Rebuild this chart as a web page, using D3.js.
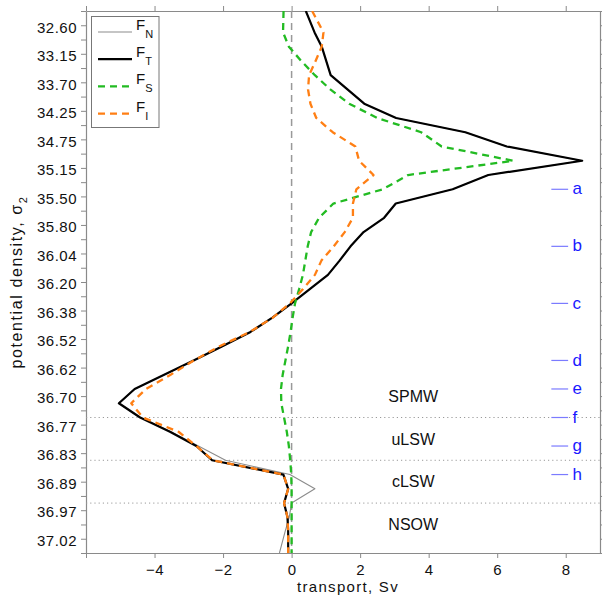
<!DOCTYPE html>
<html><head><meta charset="utf-8">
<script src="https://cdn.jsdelivr.net/npm/d3@7"></script>
<style>
html,body{margin:0;padding:0;background:#fff;}
svg{display:block;font-family:"Liberation Sans",Arial,Helvetica,sans-serif;}
</style></head><body>
<svg id="chart" width="602" height="597"></svg>
<script>
// potential density (sigma_2) labels, one per two density bins (bin edges)
const yTickLabels = ["32.60","33.15","33.70","34.25","34.75","35.15","35.50","35.80","36.04","36.20",
                     "36.38","36.52","36.62","36.70","36.77","36.83","36.89","36.97","37.02"];
// transport (Sv) per density bin, 38 bins from light (top) to dense (bottom)
const F_N = [0.50,0.67,0.88,1.01,1.14,1.63,2.12,3.05,5.07,6.28,
             8.48,5.74,4.70,3.04,2.70,2.10,1.72,1.40,1.06,0.53,
             0.00,-0.56,-1.20,-2.02,-2.86,-3.72,-4.58,-5.04,-4.42,-3.52,
             -2.72,-1.93,-0.05,0.68,0.00,-0.07,-0.19,-0.30];
const F_T = [0.50,0.67,0.88,1.01,1.14,1.63,2.12,3.05,5.07,6.28,
             8.48,5.74,4.70,3.04,2.70,2.10,1.72,1.40,1.06,0.53,
             0.00,-0.56,-1.20,-2.02,-2.86,-3.72,-4.58,-5.04,-4.42,-3.55,
             -2.78,-2.32,-0.24,-0.10,-0.22,-0.12,-0.10,-0.10];
const F_S = [-0.24,-0.25,-0.08,0.28,0.68,1.13,1.68,2.50,3.78,4.38,
             6.47,3.40,2.66,1.22,0.80,0.57,0.47,0.40,0.33,0.22,
             0.10,0.03,-0.03,-0.10,-0.18,-0.26,-0.31,-0.30,-0.22,-0.14,
             -0.08,-0.04,-0.01,0.00,0.00,0.00,0.00,0.00];
const F_I = [0.71,0.93,0.88,0.70,0.51,0.48,0.55,0.72,1.20,1.86,
             1.97,2.39,1.89,1.79,1.79,1.55,1.23,0.87,0.68,0.33,
             -0.05,-0.55,-1.22,-2.10,-2.85,-3.53,-4.25,-4.68,-4.34,-3.30,
             -2.78,-2.30,-0.24,-0.10,-0.22,-0.12,-0.10,-0.10];
const seriesNames = ["F_N","F_T","F_S","F_I"];
const xTickValues = [-6,-4,-2,0,2,4,6,8];
const xDomain = [-6,9];
// water masses, boundaries and station marks (in density-bin units)
const waterMassNames = ["SPMW","uLSW","cLSW","NSOW"];
const waterMassBins = [26.5,29.5,32.5,35.5];
const boundaryBins = [28,31,34];
const markLetters = ["a","b","c","d","e","f","g","h"];
const markBins = [12,16,20,24,26,28,30,32];

const W=602,H=597, L=86, R=600, T=11, B=553;
const nBins = F_T.length;
const svg = d3.select("#chart");
const x = d3.scaleLinear().domain(xDomain).range([L,R]);
const y = d3.scaleLinear().domain([-0.5, nBins-0.5]).range([T,B]);

svg.append("defs").append("clipPath").attr("id","clip")
  .append("rect").attr("x",L).attr("y",T).attr("width",R-L).attr("height",B-T);

const axisColor="#8a8a8a";
function styleAxis(g){
  g.select(".domain").attr("stroke",axisColor).attr("stroke-width",1.2);
  g.selectAll(".tick line").attr("stroke",axisColor).attr("stroke-width",1);
  g.selectAll(".tick text").attr("fill","#111").attr("font-size",15)
    .attr("font-family",'"Liberation Sans",Arial,sans-serif').style("letter-spacing","0.5px");
}
const edgeTicks = d3.range(0, nBins+1).map(e=>e-0.5);
const labelFor = d => { const e=d+0.5; return (e%2===1) ? yTickLabels[(e-1)/2] : ""; };

// axes
svg.append("g").attr("transform",`translate(${L},0)`)
  .call(d3.axisLeft(y).tickValues(edgeTicks).tickSize(5).tickSizeOuter(0).tickPadding(4).tickFormat(labelFor))
  .call(styleAxis).call(g=>g.selectAll(".tick text").attr("dy","0.45em"));
svg.append("g").attr("transform",`translate(${R},0)`)
  .call(d3.axisRight(y).tickValues(edgeTicks).tickSize(5).tickSizeOuter(0).tickFormat(""))
  .call(styleAxis);
svg.append("g").attr("transform",`translate(0,${B})`)
  .call(d3.axisBottom(x).tickValues(xTickValues).tickSize(5).tickSizeOuter(0).tickPadding(6)
    .tickFormat(d=> d===xDomain[0] ? "" : d3.format("")(d)))
  .call(styleAxis);
svg.append("g").attr("transform",`translate(0,${T})`)
  .call(d3.axisTop(x).tickValues(xTickValues).tickSize(5).tickSizeOuter(0).tickFormat(""))
  .call(styleAxis);

// axis titles
svg.append("text").attr("x",(L+R)/2+5).attr("y",592).attr("text-anchor","middle")
  .attr("font-size",15).style("letter-spacing","1.3px").attr("fill","#111").text("transport, Sv");
const yl = svg.append("text").attr("transform",`translate(22,${(T+B)/2}) rotate(-90)`)
  .attr("text-anchor","middle").attr("font-size",16).style("letter-spacing","1.6px").attr("fill","#111");
yl.append("tspan").text("potential density, σ");
yl.append("tspan").attr("font-size",11).attr("dy",5).text("2");

const plot = svg.append("g").attr("clip-path","url(#clip)");

// zero line
plot.append("line").attr("x1",x(0)).attr("x2",x(0)).attr("y1",T).attr("y2",B)
  .attr("stroke","#999").attr("stroke-width",1.5).attr("stroke-dasharray","7,5");
// boundaries
plot.selectAll(".bnd").data(boundaryBins).join("line").attr("class","bnd")
  .attr("x1",L).attr("x2",R).attr("y1",d=>y(d)).attr("y2",d=>y(d))
  .attr("stroke","#9a9a9a").attr("stroke-width",1).attr("stroke-dasharray","1.2,3");

// series
const styles = {
  F_N:{data:F_N,color:"#8c8c8c",width:1.1,dash:null},
  F_T:{data:F_T,color:"#000",width:2.2,dash:null},
  F_S:{data:F_S,color:"#22bb22",width:2.3,dash:"7,5"},
  F_I:{data:F_I,color:"#ff7f14",width:2.3,dash:"7,5"}
};
const line = d3.line().x(d=>x(d.v)).y(d=>y(d.j));
function withEnds(arr){
  const pts = arr.map((v,j)=>({j,v}));
  const n=arr.length;
  pts.unshift({j:-0.5, v: arr[0]+(arr[0]-arr[1])*0.5});
  pts.push({j:n-0.5, v: arr[n-1]+(arr[n-1]-arr[n-2])*0.5});
  return pts;
}
seriesNames.forEach(name=>{
  const s=styles[name];
  plot.append("path").datum(withEnds(s.data)).attr("d",line)
    .attr("fill","none").attr("stroke",s.color).attr("stroke-width",s.width)
    .attr("stroke-linejoin","round")
    .attr("stroke-dasharray",s.dash);
});

// water mass labels
svg.selectAll(".wm").data(waterMassNames).join("text").attr("class","wm")
  .attr("x",x(3.55)).attr("y",(d,i)=>y(waterMassBins[i])).attr("dy","0.36em")
  .attr("text-anchor","middle").attr("font-size",16).attr("fill","#111").text(d=>d);

// station marks
const mk = svg.selectAll(".mk").data(markLetters).join("g").attr("class","mk")
  .attr("transform",(d,i)=>`translate(0,${y(markBins[i])})`);
mk.append("line").attr("x1",x(7.58)).attr("x2",x(8.07)).attr("stroke","#7b7bff").attr("stroke-width",1.2);
mk.append("text").attr("x",x(8.2)).attr("dy","0.3em").attr("font-size",17).attr("fill","#1a1aff").text(d=>d);

// legend
const lg = svg.append("g");
lg.append("rect").attr("x",91.5).attr("y",16.5).attr("width",67.5).attr("height",111)
  .attr("fill","#fff").attr("stroke","#777").attr("stroke-width",1);
const subs = ["N","T","S","I"];
seriesNames.forEach((name,i)=>{
  const s=styles[name]; const ly=32+i*27.2;
  lg.append("line").attr("x1",98).attr("x2",132).attr("y1",ly).attr("y2",ly)
    .attr("stroke",s.color).attr("stroke-width",s.width).attr("stroke-dasharray",s.dash);
  const t=lg.append("text").attr("x",136).attr("y",ly-2).attr("font-size",15).attr("fill","#111");
  t.append("tspan").text("F");
  t.append("tspan").attr("font-size",11).attr("dy",8).text(subs[i]);
});
</script>
</body></html>
